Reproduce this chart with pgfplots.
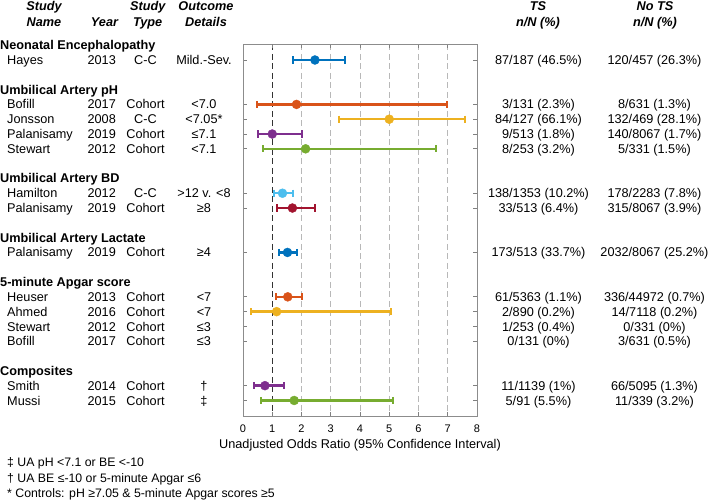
\documentclass[border=0pt]{standalone}
\usepackage{pgfplots}
\pgfplotsset{compat=1.18}
\usepackage{fontspec}
\setmainfont{Liberation Sans}
\definecolor{mblue}{HTML}{0072BD}
\definecolor{morange}{HTML}{D95319}
\definecolor{myellow}{HTML}{EDB120}
\definecolor{mpurple}{HTML}{7E2F8E}
\definecolor{mgreen}{HTML}{77AC30}
\definecolor{mcyan}{HTML}{4DBEEE}
\definecolor{mred}{HTML}{A2142F}
\tikzset{
  t/.style={font=\fontsize{12.7}{14}\selectfont, inner sep=0pt, text height=9.1pt, text depth=0pt},
  h/.style={t, font=\fontsize{12.7}{14}\selectfont\bfseries\itshape},
  g/.style={t, anchor=west, font=\fontsize{12.7}{14}\selectfont\bfseries},
  fn/.style={inner sep=0pt, anchor=west, text height=8.8pt, text depth=0pt, font=\fontsize{12.3}{14}\selectfont},
  ci/.style={line width=2.5pt, mark=|, mark size=3.6pt, mark options={line width=2pt, solid}},
  pt/.style={only marks, mark=*, mark size=4.5pt},
}
\begin{document}
\begin{tikzpicture}
\useasboundingbox (0,0) rectangle (709pt,-501pt);
\begin{axis}[
  at={(243pt,-44.3pt)}, anchor=north west,
  scale only axis, width=234pt, height=371.7pt,
  xmin=0, xmax=8, ymin=-0.06, ymax=25.05, y dir=reverse,
  xtick={0,1,2,3,4,5,6,7,8},
  ytick={1,4,5,6,7,10,11,14,17,18,19,20,23,24},
  yticklabels={},
  tick align=inside, major tick length=4pt,
  axis line style={color=black!45, line width=0.8pt},
  tick style={color=black!50, line width=0.7pt},
  xmajorgrids,
  major grid style={color=black!28, dash pattern=on 6pt off 3.5pt, line width=0.7pt},
  extra x ticks={1}, extra x tick labels={},
  extra x tick style={grid=major, major grid style={color=black!80, dash pattern=on 6pt off 3.5pt, line width=0.7pt}},
  clip=false,
  /pgf/number format/assume math mode=true,
  xticklabel style={font=\fontsize{11}{12}\selectfont, inner sep=0pt, text height=7.8pt, text depth=0pt, anchor=north, yshift=-8.4pt},
  xlabel={Unadjusted Odds Ratio (95\% Confidence Interval)},
  xlabel style={at={(axis description cs:0.5,0)}, anchor=center, inner sep=0pt, text height=9.1pt, text depth=0pt, yshift=-28.3pt, font=\fontsize{12.7}{14}\selectfont},
]
% Neonatal Encephalopathy
\addplot[mblue, ci] coordinates {(1.71,1) (3.50,1)};
\addplot[mblue, pt] coordinates {(2.46,1)};
% Umbilical Artery pH
\addplot[morange, ci] coordinates {(0.47,4) (6.99,4)};
\addplot[morange, pt] coordinates {(1.83,4)};
\addplot[myellow, ci] coordinates {(3.28,5) (7.60,5)};
\addplot[myellow, pt] coordinates {(5.00,5)};
\addplot[mpurple, ci] coordinates {(0.51,6) (2.00,6)};
\addplot[mpurple, pt] coordinates {(1.00,6)};
\addplot[mgreen, ci] coordinates {(0.70,7) (6.60,7)};
\addplot[mgreen, pt] coordinates {(2.14,7)};
% Umbilical Artery BD
\addplot[mcyan, ci] coordinates {(1.06,10) (1.71,10)};
\addplot[mcyan, pt] coordinates {(1.35,10)};
\addplot[mred, ci] coordinates {(1.16,11) (2.47,11)};
\addplot[mred, pt] coordinates {(1.69,11)};
% Umbilical Artery Lactate
\addplot[mblue, ci] coordinates {(1.24,14) (1.86,14)};
\addplot[mblue, pt] coordinates {(1.52,14)};
% 5-minute Apgar
\addplot[morange, ci] coordinates {(1.14,17) (2.03,17)};
\addplot[morange, pt] coordinates {(1.53,17)};
\addplot[myellow, ci] coordinates {(0.26,18) (5.06,18)};
\addplot[myellow, pt] coordinates {(1.15,18)};
% Composites
\addplot[mpurple, ci] coordinates {(0.38,23) (1.41,23)};
\addplot[mpurple, pt] coordinates {(0.75,23)};
\addplot[mgreen, ci] coordinates {(0.60,24) (5.13,24)};
\addplot[mgreen, pt] coordinates {(1.75,24)};

% headers
\node[h] at (axis cs:-6.803,-2.68) {Study};
\node[h] at (axis cs:-6.803,-1.57) {Name};
\node[h] at (axis cs:-4.735,-1.57) {Year};
\node[h] at (axis cs:-3.258,-2.68) {Study};
\node[h] at (axis cs:-3.258,-1.57) {Type};
\node[h] at (axis cs:-1.265,-2.68) {Outcome};
\node[h] at (axis cs:-1.265,-1.57) {Details};
\node[h] at (axis cs:10.085,-2.68) {TS};
\node[h] at (axis cs:10.085,-1.57) {n/N (\%)};
\node[h] at (axis cs:14.085,-2.68) {No TS};
\node[h] at (axis cs:14.085,-1.57) {n/N (\%)};

% group headers
\node[g] at (axis cs:-8.308,0) {Neonatal Encephalopathy};
\node[g] at (axis cs:-8.308,3) {Umbilical Artery pH};
\node[g] at (axis cs:-8.308,9) {Umbilical Artery BD};
\node[g] at (axis cs:-8.308,13) {Umbilical Artery Lactate};
\node[g] at (axis cs:-8.308,16) {5-minute Apgar score};
\node[g] at (axis cs:-8.308,22) {Composites};

% study names
\node[t, anchor=west] at (axis cs:-8.068,1) {Hayes};
\node[t, anchor=west] at (axis cs:-8.068,4) {Bofill};
\node[t, anchor=west] at (axis cs:-8.068,5) {Jonsson};
\node[t, anchor=west] at (axis cs:-8.068,6) {Palanisamy};
\node[t, anchor=west] at (axis cs:-8.068,7) {Stewart};
\node[t, anchor=west] at (axis cs:-8.068,10) {Hamilton};
\node[t, anchor=west] at (axis cs:-8.068,11) {Palanisamy};
\node[t, anchor=west] at (axis cs:-8.068,14) {Palanisamy};
\node[t, anchor=west] at (axis cs:-8.068,17) {Heuser};
\node[t, anchor=west] at (axis cs:-8.068,18) {Ahmed};
\node[t, anchor=west] at (axis cs:-8.068,19) {Stewart};
\node[t, anchor=west] at (axis cs:-8.068,20) {Bofill};
\node[t, anchor=west] at (axis cs:-8.068,23) {Smith};
\node[t, anchor=west] at (axis cs:-8.068,24) {Mussi};
% years
\node[t] at (axis cs:-4.831,1) {2013};
\node[t] at (axis cs:-4.831,4) {2017};
\node[t] at (axis cs:-4.831,5) {2008};
\node[t] at (axis cs:-4.831,6) {2019};
\node[t] at (axis cs:-4.831,7) {2012};
\node[t] at (axis cs:-4.831,10) {2012};
\node[t] at (axis cs:-4.831,11) {2019};
\node[t] at (axis cs:-4.831,14) {2019};
\node[t] at (axis cs:-4.831,17) {2013};
\node[t] at (axis cs:-4.831,18) {2016};
\node[t] at (axis cs:-4.831,19) {2012};
\node[t] at (axis cs:-4.831,20) {2017};
\node[t] at (axis cs:-4.831,23) {2014};
\node[t] at (axis cs:-4.831,24) {2015};
% study type
\node[t] at (axis cs:-3.333,1) {C-C};
\node[t] at (axis cs:-3.333,4) {Cohort};
\node[t] at (axis cs:-3.333,5) {C-C};
\node[t] at (axis cs:-3.333,6) {Cohort};
\node[t] at (axis cs:-3.333,7) {Cohort};
\node[t] at (axis cs:-3.333,10) {C-C};
\node[t] at (axis cs:-3.333,11) {Cohort};
\node[t] at (axis cs:-3.333,14) {Cohort};
\node[t] at (axis cs:-3.333,17) {Cohort};
\node[t] at (axis cs:-3.333,18) {Cohort};
\node[t] at (axis cs:-3.333,19) {Cohort};
\node[t] at (axis cs:-3.333,20) {Cohort};
\node[t] at (axis cs:-3.333,23) {Cohort};
\node[t] at (axis cs:-3.333,24) {Cohort};
% outcome details
\node[t] at (axis cs:-1.333,1) {Mild.-Sev.};
\node[t] at (axis cs:-1.333,4) {<7.0};
\node[t] at (axis cs:-1.333,5) {<7.05*};
\node[t] at (axis cs:-1.333,6) {≤7.1};
\node[t] at (axis cs:-1.333,7) {<7.1};
\node[t] at (axis cs:-1.333,10) {>12 v. <8};
\node[t] at (axis cs:-1.333,11) {≥8};
\node[t] at (axis cs:-1.333,14) {≥4};
\node[t] at (axis cs:-1.333,17) {<7};
\node[t] at (axis cs:-1.333,18) {<7};
\node[t] at (axis cs:-1.333,19) {≤3};
\node[t] at (axis cs:-1.333,20) {≤3};
\node[t] at (axis cs:-1.333,23) {†};
\node[t] at (axis cs:-1.333,24) {‡};

% TS column
\node[t] at (axis cs:10.103,1) {87/187 (46.5\%)};
\node[t] at (axis cs:10.103,4) {3/131 (2.3\%)};
\node[t] at (axis cs:10.103,5) {84/127 (66.1\%)};
\node[t] at (axis cs:10.103,6) {9/513 (1.8\%)};
\node[t] at (axis cs:10.103,7) {8/253 (3.2\%)};
\node[t] at (axis cs:10.103,10) {138/1353 (10.2\%)};
\node[t] at (axis cs:10.103,11) {33/513 (6.4\%)};
\node[t] at (axis cs:10.103,14) {173/513 (33.7\%)};
\node[t] at (axis cs:10.103,17) {61/5363 (1.1\%)};
\node[t] at (axis cs:10.103,18) {2/890 (0.2\%)};
\node[t] at (axis cs:10.103,19) {1/253 (0.4\%)};
\node[t] at (axis cs:10.103,20) {0/131 (0\%)};
\node[t] at (axis cs:10.103,23) {11/1139 (1\%)};
\node[t] at (axis cs:10.103,24) {5/91 (5.5\%)};

% No TS column
\node[t] at (axis cs:14.068,1) {120/457 (26.3\%)};
\node[t] at (axis cs:14.068,4) {8/631 (1.3\%)};
\node[t] at (axis cs:14.068,5) {132/469 (28.1\%)};
\node[t] at (axis cs:14.068,6) {140/8067 (1.7\%)};
\node[t] at (axis cs:14.068,7) {5/331 (1.5\%)};
\node[t] at (axis cs:14.068,10) {178/2283 (7.8\%)};
\node[t] at (axis cs:14.068,11) {315/8067 (3.9\%)};
\node[t] at (axis cs:14.068,14) {2032/8067 (25.2\%)};
\node[t] at (axis cs:14.068,17) {336/44972 (0.7\%)};
\node[t] at (axis cs:14.068,18) {14/7118 (0.2\%)};
\node[t] at (axis cs:14.068,19) {0/331 (0\%)};
\node[t] at (axis cs:14.068,20) {3/631 (0.5\%)};
\node[t] at (axis cs:14.068,23) {66/5095 (1.3\%)};
\node[t] at (axis cs:14.068,24) {11/339 (3.2\%)};

% footnotes
\node[fn] at (axis cs:-8.068,28.16) {‡ UA pH <7.1 or BE <-10};
\node[fn] at (axis cs:-8.068,29.22) {† UA BE ≤-10 or 5-minute Apgar ≤6};
\node[fn] at (axis cs:-8.068,30.26) {* Controls: pH ≥7.05 \& 5-minute Apgar scores ≥5};
\end{axis}
\end{tikzpicture}
\end{document}
